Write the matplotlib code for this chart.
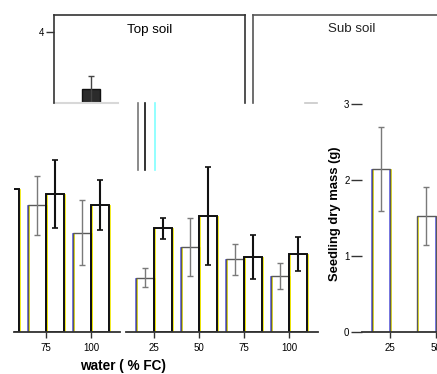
import matplotlib
matplotlib.use("Agg")
import matplotlib.pyplot as plt
from matplotlib.lines import Line2D

plt.rcParams['font.family'] = ['Liberation Sans', 'DejaVu Sans']
plt.rcParams['font.size'] = 7

# water levels (% FC)
levels = [25, 50, 75, 100]

# Top soil (lower strip, only right part visible)
top_a_levels = [75, 100]
top_a_mean = [1.67, 1.31]
top_a_err = [0.39, 0.43]
top_b_levels = [50, 75, 100]
top_b_mean = [1.89, 1.82, 1.67]
top_b_err = [0.0, 0.45, 0.33]

# Sub soil
sub_a_mean = [0.72, 1.12, 0.96, 0.74]
sub_a_err = [0.13, 0.38, 0.20, 0.17]
sub_b_mean = [1.37, 1.53, 0.99, 1.03]
sub_b_err = [0.14, 0.65, 0.29, 0.22]

# right panel (seedling dry mass)
right_levels = [25, 50]
right_mean = [2.15, 1.53]
right_err = [0.55, 0.38]

# dark bar in upper "Top soil" box
dark_levels = [25]
dark_mean = [3.25]
dark_err = [0.17]

W, H = 437, 374
fig = plt.figure(figsize=(W / 100, H / 100), dpi=100)


def box(x0, y0, x1, y1):
    return [x0 / W, 1 - y1 / H, (x1 - x0) / W, (y1 - y0) / H]


def pos(lv, shift):
    return [levels.index(v) + shift for v in lv]


def outline(ax, x, m, ec, lw, fringe=True):
    if fringe:
        ax.bar([v + 0.018 for v in x], m, 0.4, facecolor='none', edgecolor='#f0e800', lw=0.6)
        ax.bar([v - 0.012 for v in x], m, 0.4, facecolor='none', edgecolor='#4848ff', lw=0.5)
    ax.bar(x, m, 0.4, facecolor='none', edgecolor=ec, lw=lw)


def pair_bars(ax, la, ma, ea, lb, mb, eb):
    xa = pos(la, -0.2)
    xb = pos(lb, 0.2)
    outline(ax, xa, ma, '#5a5a5a', 1.0)
    ax.errorbar(xa, ma, yerr=ea, fmt='none', ecolor='#7a7a7a', elinewidth=1.0, capsize=2, capthick=1.0)
    outline(ax, xb, mb, '#111111', 1.4)
    ax.errorbar(xb, mb, yerr=eb, fmt='none', ecolor='#111111', elinewidth=1.5, capsize=2, capthick=1.2)


def strip_axes(ax, xlim, ylim):
    for s in ['left', 'top', 'right']:
        ax.spines[s].set_visible(False)
    ax.spines['bottom'].set_color('#333333')
    ax.spines['bottom'].set_linewidth(1.3)
    ax.set_yticks([])
    ax.set_xticks(range(4))
    ax.set_xticklabels(levels)
    ax.set_xlim(*xlim)
    ax.set_ylim(*ylim)
    ax.tick_params(axis='x', length=4, width=1, color='#333333', pad=4)
    ax.patch.set_visible(False)


px_per_unit = 76.0
y0px = 332.3


def ylim_for(top_px):
    return (0, (y0px - top_px) / px_per_unit)


# lower left strip: Top soil (tail)
axL = fig.add_axes(box(14, 150, 120, y0px))
pair_bars(axL, top_a_levels, top_a_mean, top_a_err, top_b_levels, top_b_mean, top_b_err)
strip_axes(axL, ((14 + 44) / 45, (120 + 44) / 45), ylim_for(150))

# lower middle strip: Sub soil
axM = fig.add_axes(box(126, 150, 318, y0px))
pair_bars(axM, levels, sub_a_mean, sub_a_err, levels, sub_b_mean, sub_b_err)
strip_axes(axM, (-28 / 45, (318 - 154) / 45), ylim_for(150))

fig.text(123 / W, 1 - 366 / H, 'water ( % FC)', ha='center', va='center',
         fontsize=9.8, fontweight='bold')

# right panel: seedling dry mass
axR = fig.add_axes(box(362, 95, 437, y0px))
xr = pos(right_levels, -0.2)
outline(axR, xr, right_mean, '#5a5a5a', 1.0)
axR.errorbar(xr, right_mean, yerr=right_err, fmt='none', ecolor='#7a7a7a', elinewidth=1.0,
             capsize=2, capthick=1.0)
axR.set_yticks([0, 1, 2, 3])
axR.set_xticks(range(4))
axR.set_xticklabels(levels)
axR.set_xlim(-28 / 45.5, 47 / 45.5)
axR.set_ylim(*ylim_for(95))
axR.patch.set_visible(False)
for s in ['left', 'top', 'right']:
    axR.spines[s].set_visible(False)
axR.spines['bottom'].set_color('#333333')
axR.spines['bottom'].set_linewidth(1.3)
axR.tick_params(axis='x', length=4, width=1, color='#333333', pad=4)
axR.tick_params(axis='y', length=8, width=1, color='#333333', pad=1)
axR.set_ylabel('Seedling dry mass (g)', fontsize=9.4, fontweight='bold', labelpad=2)

# upper boxes
axT = fig.add_axes(box(54, 14.7, 245, 103))
axT.patch.set_visible(False)
xd = pos(dark_levels, 0.2)
axT.bar(xd, [m - 3.0 for m in dark_mean], 0.4, bottom=3.0, color='#2b2b2b', edgecolor='#111111', lw=1)
axT.errorbar(xd, dark_mean, yerr=dark_err, fmt='none', ecolor='#444444', elinewidth=1.0,
             capsize=2, capthick=1.0)
axT.set_yticks([4])
axT.set_xticks([])
axT.set_xlim(-28 / 45, (245 - 82) / 45)
axT.set_ylim(4 - 71 / px_per_unit, 4 + 17.3 / px_per_unit)
axT.tick_params(axis='y', length=6, width=1, color='#333333', pad=1)
axT.spines['bottom'].set_visible(False)
for s in ['left', 'top', 'right']:
    axT.spines[s].set_color('#333333')
    axT.spines[s].set_linewidth(1.2)
axT.axhline(axT.get_ylim()[0], xmin=0, xmax=(118 - 54) / 191, color='#d8d8d8', lw=1.5, clip_on=False)
axT.set_title('Top soil', fontsize=9.6, pad=-13, y=1)

axS = fig.add_axes(box(253, 14.7, 445, 103))
axS.patch.set_visible(False)
axS.set_xticks([])
axS.set_yticks([])
axS.spines['bottom'].set_visible(False)
for s in ['left', 'top', 'right']:
    axS.spines[s].set_color('#555555')
    axS.spines[s].set_linewidth(1.2)
axS.axhline(axS.get_ylim()[0], xmin=(305 - 253) / 192, xmax=(317 - 253) / 192, color='#c8c8c8',
            lw=1.2, clip_on=False)
axS.text((352 - 253) / 192, 1 - 14.3 / 88.3, 'Sub soil', transform=axS.transAxes,
         ha='center', va='center', fontsize=9.6, color='#222222')

# leftover vertical strokes between panels
for xp, c in [(137.5, '#777777'), (145.3, '#111111'), (155.3, '#80ffff')]:
    fig.add_artist(Line2D([xp / W, xp / W], [1 - 103 / H, 1 - 170 / H], color=c, lw=1.2))

fig.savefig('out.png', dpi=100)
